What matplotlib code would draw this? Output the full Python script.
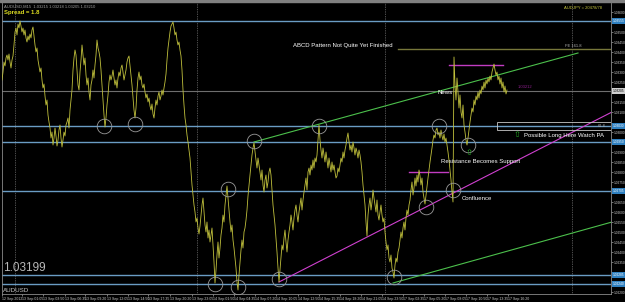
import numpy as np
import matplotlib
matplotlib.use("Agg")
import matplotlib.pyplot as plt
from matplotlib.patches import Rectangle
from matplotlib.transforms import blended_transform_factory

plt.rcParams['font.family'] = ['Liberation Sans', 'DejaVu Sans']

# AUDUSD closes, one per bar
closes = [
    1.03260, 1.03300, 1.03350, 1.03330, 1.03370, 1.03385, 1.03360, 1.03390, 1.03350, 1.03320,
    1.03360, 1.03380, 1.03435, 1.03500, 1.03520, 1.03485, 1.03540, 1.03520, 1.03555, 1.03530,
    1.03500, 1.03520, 1.03485, 1.03510, 1.03470, 1.03450, 1.03480, 1.03460, 1.03490, 1.03470,
    1.03510, 1.03525, 1.03480, 1.03435, 1.03400, 1.03420, 1.03360, 1.03330, 1.03300, 1.03320,
    1.03260, 1.03220, 1.03240, 1.03180, 1.03135, 1.03160, 1.03085, 1.03050, 1.03020, 1.02970,
    1.03000, 1.02935, 1.02970, 1.03020, 1.02980, 1.02930, 1.02960, 1.03010, 1.03035, 1.02970,
    1.02925, 1.02960, 1.03000, 1.02980, 1.03035, 1.03050, 1.03070, 1.03020, 1.03110, 1.03160,
    1.03210, 1.03310, 1.03370, 1.03410, 1.03385, 1.03310, 1.03235, 1.03210, 1.03300, 1.03360,
    1.03435, 1.03385, 1.03335, 1.03370, 1.03285, 1.03235, 1.03270, 1.03200, 1.03160, 1.03235,
    1.03260, 1.03310, 1.03270, 1.03335, 1.03385, 1.03460, 1.03420, 1.03400, 1.03370, 1.03310,
    1.03235, 1.03160, 1.03085, 1.03025, 1.03070, 1.03135, 1.03185, 1.03250, 1.03285, 1.03260,
    1.03280, 1.03310, 1.03270, 1.03235, 1.03260, 1.03220, 1.03270, 1.03300, 1.03280, 1.03320,
    1.03335, 1.03300, 1.03260, 1.03285, 1.03310, 1.03350, 1.03370, 1.03380, 1.03330, 1.03285,
    1.03235, 1.03170, 1.03110, 1.03070, 1.03120, 1.03210, 1.03270, 1.03300, 1.03260, 1.03280,
    1.03235, 1.03220, 1.03240, 1.03200, 1.03170, 1.03190, 1.03150, 1.03170, 1.03130, 1.03110,
    1.03140, 1.03090, 1.03070, 1.03120, 1.03160, 1.03135, 1.03180, 1.03200, 1.03160, 1.03180,
    1.03210, 1.03185, 1.03220, 1.03250, 1.03290, 1.03360, 1.03420, 1.03460, 1.03500, 1.03530,
    1.03540, 1.03550, 1.03520, 1.03485, 1.03500, 1.03460, 1.03435, 1.03450, 1.03410, 1.03380,
    1.03310, 1.03210, 1.03135, 1.03070, 1.03035, 1.02985, 1.02950, 1.02910, 1.02870, 1.02800,
    1.02735, 1.02685, 1.02635, 1.02600, 1.02550, 1.02570, 1.02520, 1.02490, 1.02530, 1.02585,
    1.02635, 1.02670, 1.02600, 1.02535, 1.02500, 1.02550, 1.02470, 1.02510, 1.02450, 1.02485,
    1.02520, 1.02435, 1.02350, 1.02245, 1.02310, 1.02385, 1.02450, 1.02370, 1.02420, 1.02485,
    1.02520, 1.02585, 1.02550, 1.02635, 1.02685, 1.02730, 1.02670, 1.02610, 1.02550, 1.02500,
    1.02535, 1.02460, 1.02420, 1.02370, 1.02320, 1.02250, 1.02210, 1.02285, 1.02350, 1.02410,
    1.02460, 1.02420, 1.02500, 1.02520, 1.02560, 1.02610, 1.02680, 1.02735, 1.02785, 1.02835,
    1.02885, 1.02920, 1.02945, 1.02900, 1.02860, 1.02820, 1.02870, 1.02835, 1.02800, 1.02760,
    1.02810, 1.02735, 1.02700, 1.02760, 1.02785, 1.02720, 1.02750, 1.02800, 1.02820, 1.02785,
    1.02710, 1.02635, 1.02585, 1.02535, 1.02470, 1.02400, 1.02320, 1.02250, 1.02310, 1.02370,
    1.02435, 1.02410, 1.02470, 1.02510, 1.02450, 1.02400, 1.02460, 1.02500, 1.02535, 1.02585,
    1.02550, 1.02510, 1.02570, 1.02610, 1.02635, 1.02585, 1.02550, 1.02600, 1.02635, 1.02670,
    1.02610, 1.02660, 1.02700, 1.02735, 1.02770, 1.02710, 1.02800, 1.02820, 1.02785, 1.02835,
    1.02810, 1.02860, 1.02820, 1.02870, 1.02850, 1.02885, 1.02960, 1.03035, 1.02960, 1.02910,
    1.02870, 1.02920, 1.02885, 1.02850, 1.02900, 1.02860, 1.02820, 1.02870, 1.02835, 1.02800,
    1.02850, 1.02810, 1.02835, 1.02800, 1.02770, 1.02780, 1.02820, 1.02800, 1.02835, 1.02870,
    1.02850, 1.02900, 1.02870, 1.02910, 1.02935, 1.02970, 1.02995, 1.02950, 1.02910, 1.02935,
    1.02900, 1.02950, 1.02920, 1.02885, 1.02920, 1.02900, 1.02870, 1.02910, 1.02885, 1.02850,
    1.02800, 1.02735, 1.02685, 1.02635, 1.02550, 1.02480, 1.02585, 1.02635, 1.02670, 1.02610,
    1.02650, 1.02710, 1.02670, 1.02635, 1.02600, 1.02660, 1.02585, 1.02560, 1.02600, 1.02635,
    1.02585, 1.02550, 1.02570, 1.02500, 1.02450, 1.02410, 1.02435, 1.02370, 1.02350, 1.02385,
    1.02320, 1.02300, 1.02270, 1.02335, 1.02370, 1.02350, 1.02400, 1.02420, 1.02460, 1.02500,
    1.02470, 1.02520, 1.02550, 1.02510, 1.02570, 1.02610, 1.02585, 1.02635, 1.02660, 1.02710,
    1.02750, 1.02685, 1.02720, 1.02770, 1.02730, 1.02785, 1.02750, 1.02810, 1.02780, 1.02735,
    1.02770, 1.02700, 1.02670, 1.02640, 1.02685, 1.02735, 1.02770, 1.02810, 1.02850, 1.02885,
    1.02920, 1.02960, 1.02985, 1.02970, 1.03010, 1.03020, 1.02985, 1.03000, 1.02970, 1.03010,
    1.02980, 1.02960, 1.02990, 1.02950, 1.02970, 1.02935, 1.02900, 1.02860, 1.02810, 1.02760,
    1.02700, 1.02650, 1.03375, 1.03235, 1.03160, 1.03270, 1.03200, 1.03120, 1.03185, 1.03100,
    1.03070, 1.03135, 1.03035, 1.03000, 1.02960, 1.02935, 1.02970, 1.03010, 1.03050, 1.03085,
    1.03120, 1.03100, 1.03160, 1.03135, 1.03180, 1.03160, 1.03200, 1.03170, 1.03210, 1.03190,
    1.03230, 1.03210, 1.03250, 1.03220, 1.03260, 1.03240, 1.03270, 1.03250, 1.03280, 1.03260,
    1.03300, 1.03320, 1.03340, 1.03310, 1.03285, 1.03300, 1.03260, 1.03280, 1.03240, 1.03270,
    1.03220, 1.03250, 1.03200, 1.03230, 1.03190, 1.03210,
]

# horizontal support / resistance levels
sr_levels = [1.03555, 1.03030, 1.02950, 1.02705, 1.02285, 1.02240]
bid_level = 1.03205
fe_level = 1.03415
fe_start = 396

# short magenta horizontals: (price, bar_from, bar_to)
magenta_flats = [(1.03335, 447, 501), (1.02800, 407, 446)]

# trendlines: (bar0, price0, bar1, price1)
green_lines = [(252, 1.02950, 576, 1.03395), (391, 1.02245, 610, 1.02550)]
magenta_line = (277, 1.02250, 610, 1.03100)

# circled touches
circle_bars = [102, 133, 226, 252, 213, 236, 277, 317, 392, 437, 466, 451, 424]
circle_prices = [1.03030, 1.03040, 1.02715, 1.02955, 1.02240, 1.02225, 1.02265,
                 1.03030, 1.02275, 1.03030, 1.02935, 1.02710, 1.02625]

arrow_bars = [515, 467]
arrow_prices = [1.02990, 1.02900]

# day separators
separators = [13, 195, 383, 570]

# notes: (bar, price, text)
notes = [
    (291, 1.03435, "ABCD Pattern Not Quite Yet Finished"),
    (435, 1.03200, "News"),
    (439, 1.02855, "Resistance Becomes Support"),
    (460, 1.02670, "Confluence"),
    (522, 1.02985, "Possible Long Here Watch PA"),
]

x_tick_bars = [0, 20, 41, 63, 83, 105, 126, 146, 168, 190, 211, 232, 253, 274,
               296, 317, 338, 359, 380, 401, 422, 443, 464, 485, 506]
x_tick_labels = ["12 Sep 2012", "13 Sep 01:05", "13 Sep 03:50", "13 Sep 06:35",
                 "13 Sep 09:20", "13 Sep 12:05", "13 Sep 14:50", "13 Sep 17:35",
                 "13 Sep 20:20", "13 Sep 23:05", "14 Sep 01:50", "14 Sep 04:35",
                 "14 Sep 07:20", "14 Sep 10:05", "14 Sep 12:50", "14 Sep 15:35",
                 "14 Sep 18:20", "14 Sep 21:05", "14 Sep 23:50", "17 Sep 02:35",
                 "17 Sep 05:20", "17 Sep 08:05", "17 Sep 10:50", "17 Sep 13:35",
                 "17 Sep 16:20"]

fig = plt.figure(figsize=(6.25, 3.02), dpi=100, facecolor='black')
fig.patches.append(Rectangle((0, 1 - 2 / 302), 1, 2 / 302, transform=fig.transFigure,
                             color='#808080', zorder=0))
ax = fig.add_axes([2 / 625, 8 / 302, 609 / 625, 291 / 302])
ax.set_facecolor('black')
ax.set_xlim(0, 609)
ax.set_ylim(1.02190, 1.03645)

for s in ['left', 'bottom', 'right']:
    ax.spines[s].set_color('#8a8a8a')
    ax.spines[s].set_linewidth(0.6)
ax.spines['top'].set_visible(False)

# separators
for b in separators:
    ax.axvline(b, color='#9a9a9a', lw=0.5, ls=(0, (1, 1.5)), zorder=1)

# levels
for lv in sr_levels:
    ax.axhline(lv, color='#6a9cc4', lw=1.0, zorder=2)
ax.axhline(bid_level, color='#6e6e6e', lw=0.8, zorder=2)
ax.plot([fe_start, 609], [fe_level, fe_level], color='#77773a', lw=1.0, zorder=2)

for p, b0, b1 in magenta_flats:
    ax.plot([b0, b1], [p, p], color='#c23cc2', lw=1.0, zorder=3)

for b0, p0, b1, p1 in green_lines:
    ax.plot([b0, b1], [p0, p1], color='#4cc04c', lw=0.8, zorder=3)
b0, p0, b1, p1 = magenta_line
ax.plot([b0, b1], [p0, p1], color='#d040d0', lw=0.8, zorder=3)

# price
ax.plot(np.arange(len(closes)), closes, color='#c0c03c', lw=0.6, zorder=4)

ax.plot(circle_bars, circle_prices, 'o', mfc='none', mec='#9a9a9a', ms=10.5, mew=0.6, zorder=5)

for b, p in zip(arrow_bars, arrow_prices):
    ax.text(b, p, '\u21e7', color='#22aa22', fontsize=6, ha='center', va='center',
            family='DejaVu Sans', zorder=6)

ax.add_patch(Rectangle((495, 1.03010), 115, 0.00040, fill=False, ec='#c8c8c8',
                       lw=0.6, zorder=5, clip_on=True))

for b, p, t in notes:
    ax.text(b, p, t, color='white', fontsize=4.3, ha='left', va='center', zorder=6)

ax.text(563, 1.03430, "FE 161.8", color='#b0b0b0', fontsize=3, ha='left', va='center')
ax.text(516, 1.03225, "1.03212", color='#902090', fontsize=3, ha='left', va='center')
ax.text(603, 1.03030, "61.8", color='#b0b0b0', fontsize=2.8, ha='right', va='center')

# corner texts
ax.text(0.003, 0.995, "AUDUSD,M15  1.03215 1.03218 1.03205 1.03210", transform=ax.transAxes,
        color='#a0a0a0', fontsize=3, ha='left', va='top')
ax.text(0.003, 0.975, "Spread = 1.8", transform=ax.transAxes, color='#e0e020',
        fontsize=4.3, fontweight='bold', ha='left', va='top')
ax.text(0.985, 0.99, "AUDJPY = 20478/78", transform=ax.transAxes, color='#c8c840',
        fontsize=3, ha='right', va='top')
ax.text(0.002, 0.07, "1.03199", transform=ax.transAxes, color='#b8b8b8', fontsize=8.5,
        ha='left', va='bottom')
ax.text(0.002, 0.005, "AUDUSD", transform=ax.transAxes, color='#c8c8c8', fontsize=4.5,
        ha='left', va='bottom')

# price scale on the right; skip plain labels under the highlighted ones
marked = sr_levels + [bid_level]
yt = [v for v in np.arange(1.0220, 1.03645, 0.0005)
      if min(abs(v - m) for m in marked) > 0.00022]
ax.yaxis.tick_right()
ax.set_yticks(yt)
ax.set_yticklabels([f"{v:.5f}" for v in yt])
ax.tick_params(axis='y', colors='#d0d0d0', labelsize=2.3, length=1.2, width=0.4, pad=0.6)
ax.set_xticks(x_tick_bars)
ax.set_xticklabels(x_tick_labels, ha='left')
ax.tick_params(axis='x', colors='#d0d0d0', labelsize=2.5, length=1.5, width=0.4, pad=0.5)

tr = blended_transform_factory(ax.transAxes, ax.transData)
for lv in sr_levels:
    ax.text(1.0025, lv, f"{lv:.5f}", transform=tr, color='white', fontsize=2.3, va='center',
            ha='left', clip_on=False,
            bbox=dict(facecolor='#2f80c0', edgecolor='none', pad=0.5))
ax.text(1.0025, bid_level, f"{bid_level:.5f}", transform=tr, color='black', fontsize=2.3,
        va='center', ha='left', clip_on=False,
        bbox=dict(facecolor='#d0d0d0', edgecolor='none', pad=0.5))

fig.savefig('out.png', dpi=100, facecolor='black')
